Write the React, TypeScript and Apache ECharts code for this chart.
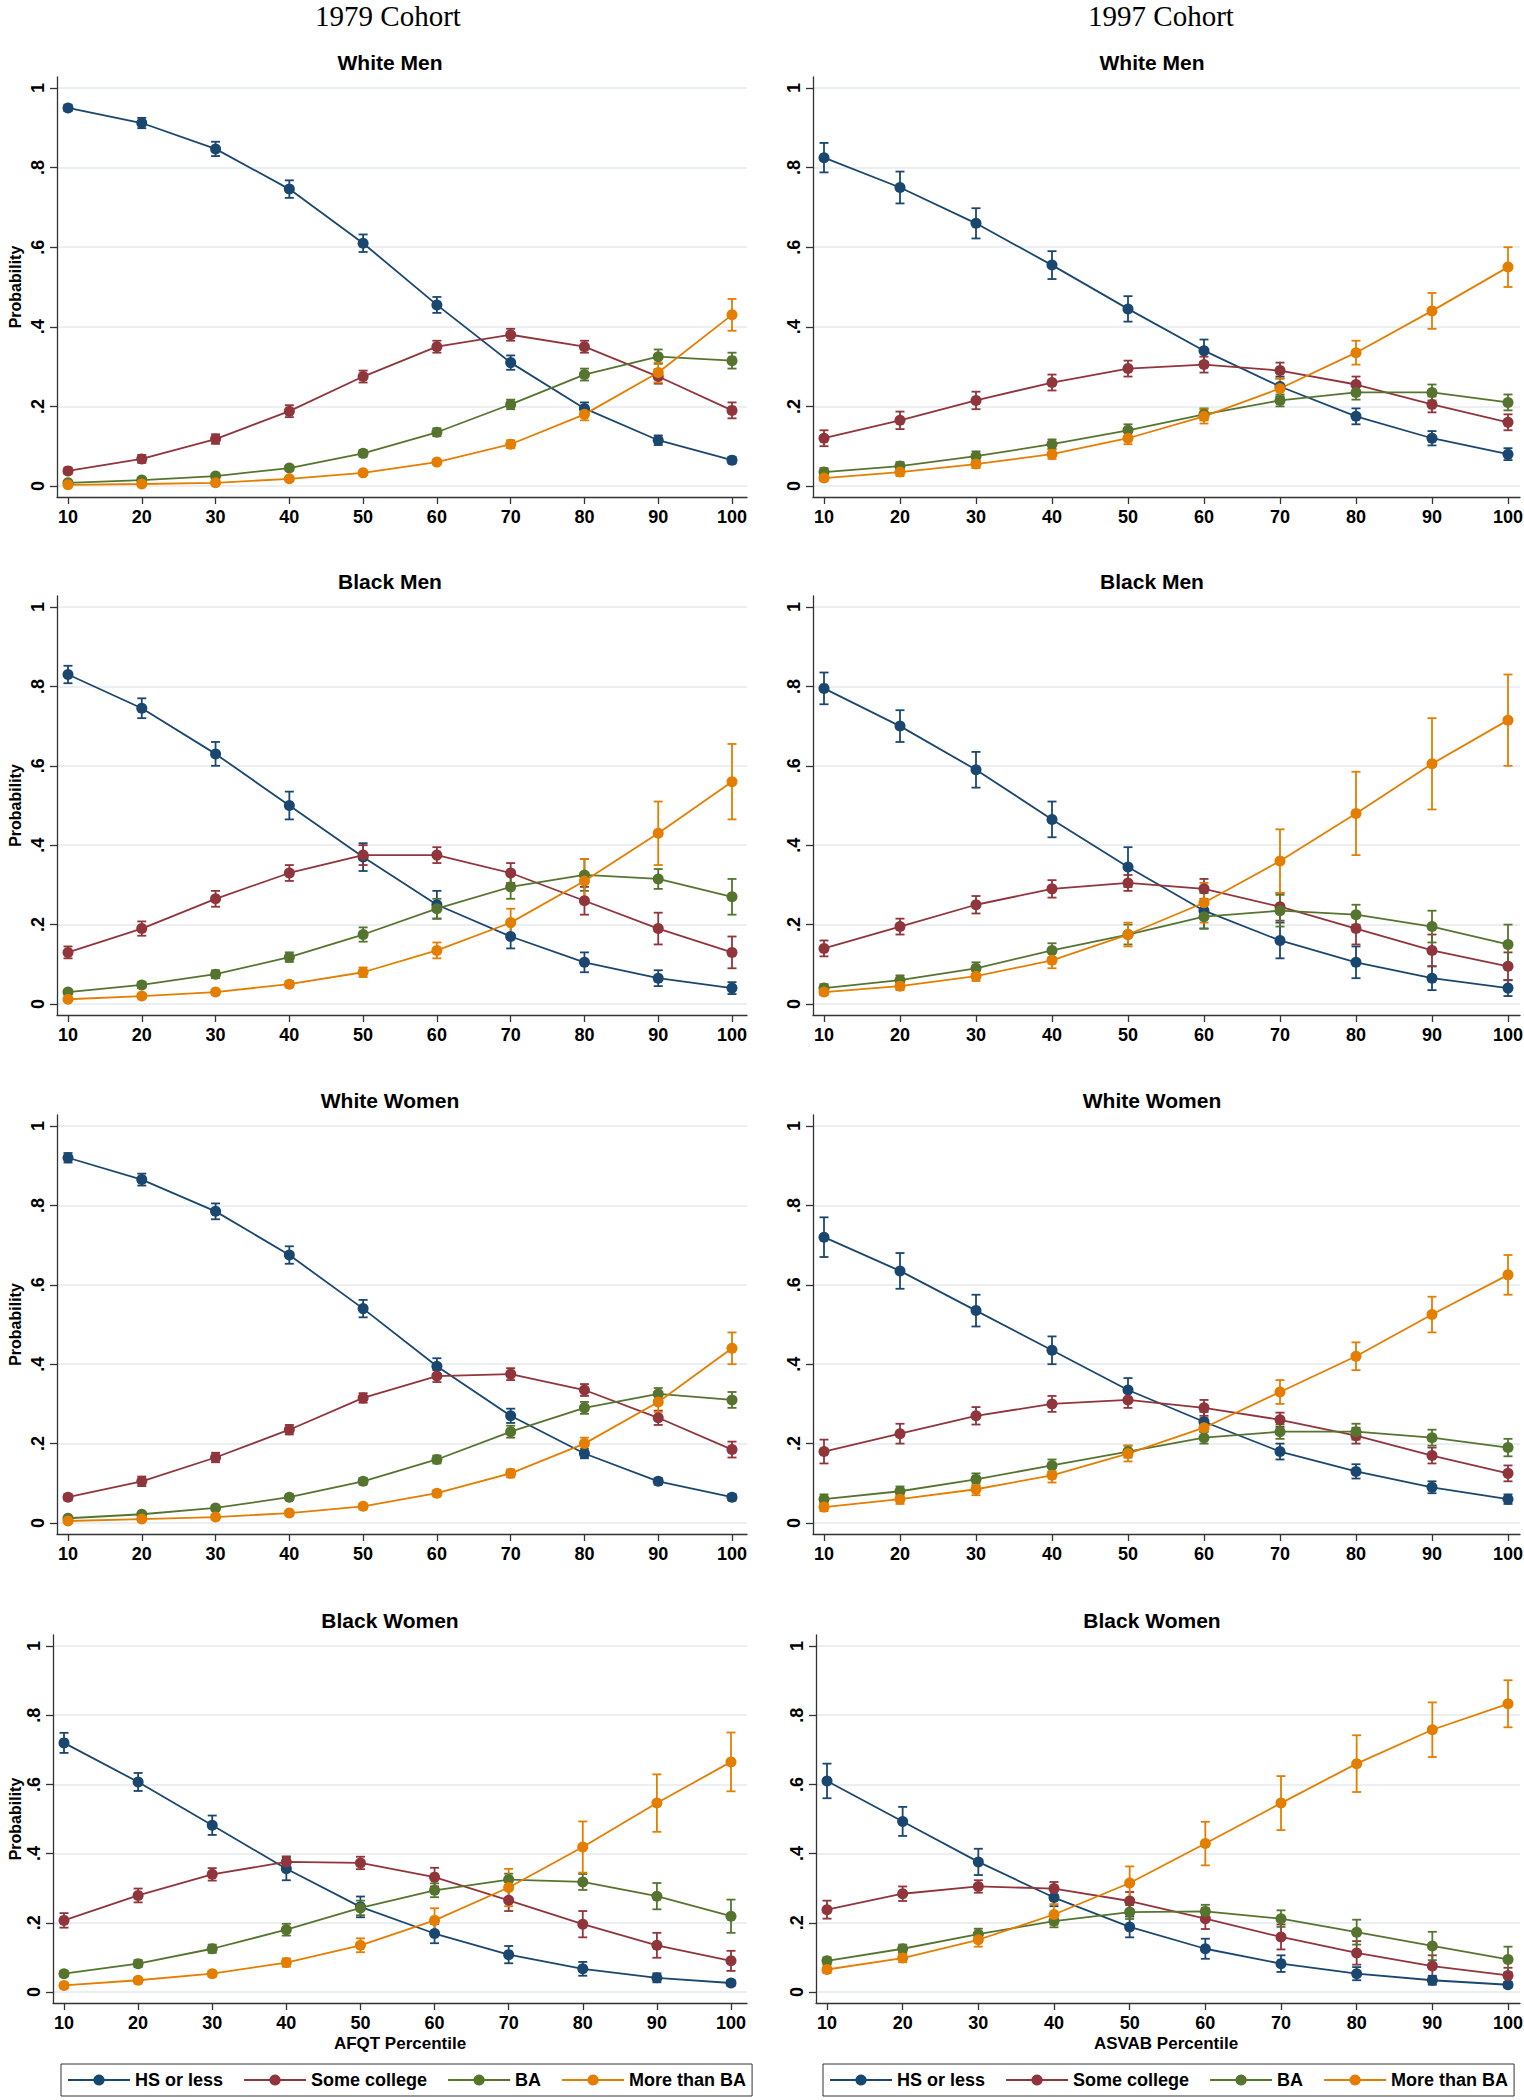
import React, { useEffect, useRef } from "react";
import * as echarts from "echarts";

// ---------- data ----------
const percentiles = [10, 20, 30, 40, 50, 60, 70, 80, 90, 100];
const categories = ["HS or less", "Some college", "BA", "More than BA"];
const colors = ["#1a476f", "#90353b", "#55752f", "#e37e00"];
const yTicks = [0, 0.2, 0.4, 0.6, 0.8, 1];
const cohortTitles = ["1979 Cohort", "1997 Cohort"];
const groupTitles = ["White Men", "Black Men", "White Women", "Black Women"];
const xAxisTitles = ["AFQT Percentile", "ASVAB Percentile"];
const yAxisTitle = "Probability";

// 1979 cohort, White Men
const wm79Hs = [0.95, 0.912, 0.847, 0.746, 0.61, 0.455, 0.31, 0.195, 0.115, 0.065];
const wm79Some = [0.038, 0.068, 0.118, 0.188, 0.275, 0.35, 0.38, 0.35, 0.275, 0.19];
const wm79Ba = [0.008, 0.015, 0.025, 0.045, 0.082, 0.135, 0.205, 0.28, 0.325, 0.315];
const wm79More = [0.003, 0.005, 0.008, 0.018, 0.033, 0.06, 0.105, 0.18, 0.285, 0.43];
const wm79HsCi = [0.008, 0.013, 0.018, 0.022, 0.022, 0.02, 0.018, 0.015, 0.012, 0.008];
const wm79SomeCi = [0.008, 0.01, 0.012, 0.015, 0.015, 0.015, 0.015, 0.015, 0.018, 0.02];
const wm79BaCi = [0.003, 0.004, 0.005, 0.006, 0.008, 0.01, 0.012, 0.015, 0.018, 0.02];
const wm79MoreCi = [0.002, 0.002, 0.003, 0.004, 0.005, 0.006, 0.01, 0.015, 0.025, 0.04];

// 1997 cohort, White Men
const wm97Hs = [0.825, 0.75, 0.66, 0.555, 0.445, 0.34, 0.25, 0.175, 0.12, 0.08];
const wm97Some = [0.12, 0.165, 0.215, 0.26, 0.295, 0.305, 0.29, 0.255, 0.205, 0.16];
const wm97Ba = [0.035, 0.05, 0.075, 0.105, 0.14, 0.18, 0.215, 0.235, 0.235, 0.21];
const wm97More = [0.02, 0.035, 0.055, 0.08, 0.12, 0.175, 0.245, 0.335, 0.44, 0.55];
const wm97HsCi = [0.037, 0.04, 0.038, 0.035, 0.032, 0.028, 0.025, 0.02, 0.018, 0.015];
const wm97SomeCi = [0.02, 0.022, 0.022, 0.02, 0.02, 0.02, 0.02, 0.02, 0.02, 0.02];
const wm97BaCi = [0.01, 0.01, 0.012, 0.012, 0.015, 0.015, 0.015, 0.018, 0.02, 0.02];
const wm97MoreCi = [0.008, 0.01, 0.01, 0.012, 0.015, 0.018, 0.025, 0.03, 0.045, 0.05];

// 1979 cohort, Black Men
const bm79Hs = [0.83, 0.745, 0.63, 0.5, 0.37, 0.25, 0.17, 0.105, 0.065, 0.04];
const bm79Some = [0.13, 0.19, 0.265, 0.33, 0.375, 0.375, 0.33, 0.26, 0.19, 0.13];
const bm79Ba = [0.03, 0.048, 0.075, 0.118, 0.175, 0.24, 0.295, 0.325, 0.315, 0.27];
const bm79More = [0.012, 0.02, 0.03, 0.05, 0.08, 0.135, 0.205, 0.31, 0.43, 0.56];
const bm79HsCi = [0.022, 0.025, 0.03, 0.035, 0.035, 0.035, 0.03, 0.025, 0.02, 0.015];
const bm79SomeCi = [0.015, 0.018, 0.02, 0.02, 0.025, 0.02, 0.025, 0.035, 0.04, 0.04];
const bm79BaCi = [0.006, 0.008, 0.01, 0.012, 0.018, 0.025, 0.03, 0.04, 0.025, 0.045];
const bm79MoreCi = [0.004, 0.005, 0.006, 0.008, 0.012, 0.02, 0.035, 0.055, 0.08, 0.095];

// 1997 cohort, Black Men
const bm97Hs = [0.795, 0.7, 0.59, 0.465, 0.345, 0.235, 0.16, 0.105, 0.065, 0.04];
const bm97Some = [0.14, 0.195, 0.25, 0.29, 0.305, 0.29, 0.245, 0.19, 0.135, 0.095];
const bm97Ba = [0.04, 0.06, 0.09, 0.135, 0.175, 0.22, 0.235, 0.225, 0.195, 0.15];
const bm97More = [0.03, 0.045, 0.07, 0.11, 0.175, 0.255, 0.36, 0.48, 0.605, 0.715];
const bm97HsCi = [0.04, 0.04, 0.045, 0.045, 0.05, 0.045, 0.045, 0.04, 0.03, 0.02];
const bm97SomeCi = [0.02, 0.02, 0.022, 0.022, 0.02, 0.025, 0.035, 0.04, 0.04, 0.035];
const bm97BaCi = [0.01, 0.012, 0.015, 0.018, 0.025, 0.03, 0.04, 0.025, 0.04, 0.05];
const bm97MoreCi = [0.008, 0.01, 0.012, 0.02, 0.03, 0.05, 0.08, 0.105, 0.115, 0.115];

// 1979 cohort, White Women
const ww79Hs = [0.92, 0.865, 0.785, 0.675, 0.54, 0.395, 0.27, 0.175, 0.105, 0.065];
const ww79Some = [0.065, 0.105, 0.165, 0.235, 0.315, 0.37, 0.375, 0.335, 0.265, 0.185];
const ww79Ba = [0.012, 0.022, 0.038, 0.065, 0.105, 0.16, 0.23, 0.29, 0.325, 0.31];
const ww79More = [0.005, 0.01, 0.015, 0.025, 0.042, 0.075, 0.125, 0.2, 0.305, 0.44];
const ww79HsCi = [0.012, 0.015, 0.02, 0.022, 0.022, 0.02, 0.018, 0.012, 0.008, 0.008];
const ww79SomeCi = [0.008, 0.012, 0.012, 0.012, 0.012, 0.015, 0.015, 0.015, 0.018, 0.02];
const ww79BaCi = [0.004, 0.005, 0.006, 0.007, 0.008, 0.01, 0.015, 0.015, 0.015, 0.02];
const ww79MoreCi = [0.002, 0.003, 0.004, 0.005, 0.006, 0.008, 0.01, 0.015, 0.025, 0.04];

// 1997 cohort, White Women
const ww97Hs = [0.72, 0.635, 0.535, 0.435, 0.335, 0.255, 0.18, 0.13, 0.09, 0.06];
const ww97Some = [0.18, 0.225, 0.27, 0.3, 0.31, 0.29, 0.26, 0.22, 0.17, 0.125];
const ww97Ba = [0.06, 0.08, 0.11, 0.145, 0.18, 0.215, 0.23, 0.23, 0.215, 0.19];
const ww97More = [0.04, 0.06, 0.085, 0.12, 0.175, 0.24, 0.33, 0.42, 0.525, 0.625];
const ww97HsCi = [0.05, 0.045, 0.04, 0.035, 0.03, 0.025, 0.02, 0.018, 0.015, 0.012];
const ww97SomeCi = [0.03, 0.025, 0.022, 0.02, 0.02, 0.02, 0.018, 0.02, 0.02, 0.02];
const ww97BaCi = [0.012, 0.012, 0.015, 0.015, 0.015, 0.015, 0.018, 0.02, 0.02, 0.022];
const ww97MoreCi = [0.01, 0.012, 0.015, 0.018, 0.02, 0.025, 0.03, 0.035, 0.045, 0.05];

// 1979 cohort, Black Women
const bw79Hs = [0.72, 0.607, 0.482, 0.356, 0.246, 0.169, 0.108, 0.067, 0.041, 0.026];
const bw79Some = [0.207, 0.279, 0.34, 0.376, 0.373, 0.332, 0.265, 0.196, 0.135, 0.09];
const bw79Ba = [0.053, 0.082, 0.125, 0.18, 0.243, 0.294, 0.325, 0.318, 0.277, 0.219];
const bw79More = [0.019, 0.034, 0.053, 0.085, 0.135, 0.207, 0.302, 0.419, 0.546, 0.665];
const bw79HsCi = [0.029, 0.026, 0.028, 0.033, 0.03, 0.028, 0.025, 0.02, 0.013, 0.008];
const bw79SomeCi = [0.021, 0.02, 0.018, 0.016, 0.018, 0.027, 0.031, 0.038, 0.036, 0.029];
const bw79BaCi = [0.008, 0.01, 0.012, 0.017, 0.021, 0.02, 0.017, 0.023, 0.038, 0.048];
const bw79MoreCi = [0.006, 0.007, 0.008, 0.012, 0.02, 0.035, 0.054, 0.074, 0.083, 0.085];

// 1997 cohort, Black Women
const bw97Hs = [0.61, 0.493, 0.376, 0.273, 0.188, 0.125, 0.082, 0.053, 0.034, 0.021];
const bw97Some = [0.238, 0.284, 0.305, 0.299, 0.263, 0.212, 0.159, 0.113, 0.075, 0.048];
const bw97Ba = [0.09, 0.125, 0.167, 0.205, 0.231, 0.233, 0.212, 0.173, 0.133, 0.094];
const bw97More = [0.065, 0.098, 0.151, 0.224, 0.315, 0.429, 0.546, 0.66, 0.758, 0.833];
const bw97HsCi = [0.05, 0.042, 0.038, 0.025, 0.03, 0.029, 0.024, 0.019, 0.013, 0.008];
const bw97SomeCi = [0.026, 0.021, 0.018, 0.019, 0.026, 0.03, 0.036, 0.034, 0.031, 0.022];
const bw97BaCi = [0.01, 0.012, 0.016, 0.018, 0.02, 0.019, 0.024, 0.036, 0.041, 0.037];
const bw97MoreCi = [0.01, 0.012, 0.02, 0.03, 0.048, 0.063, 0.078, 0.082, 0.079, 0.068];

const panelValues = [
  [[wm79Hs, wm79Some, wm79Ba, wm79More], [wm97Hs, wm97Some, wm97Ba, wm97More]],
  [[bm79Hs, bm79Some, bm79Ba, bm79More], [bm97Hs, bm97Some, bm97Ba, bm97More]],
  [[ww79Hs, ww79Some, ww79Ba, ww79More], [ww97Hs, ww97Some, ww97Ba, ww97More]],
  [[bw79Hs, bw79Some, bw79Ba, bw79More], [bw97Hs, bw97Some, bw97Ba, bw97More]],
];
const panelCis = [
  [[wm79HsCi, wm79SomeCi, wm79BaCi, wm79MoreCi], [wm97HsCi, wm97SomeCi, wm97BaCi, wm97MoreCi]],
  [[bm79HsCi, bm79SomeCi, bm79BaCi, bm79MoreCi], [bm97HsCi, bm97SomeCi, bm97BaCi, bm97MoreCi]],
  [[ww79HsCi, ww79SomeCi, ww79BaCi, ww79MoreCi], [ww97HsCi, ww97SomeCi, ww97BaCi, ww97MoreCi]],
  [[bw79HsCi, bw79SomeCi, bw79BaCi, bw79MoreCi], [bw97HsCi, bw97SomeCi, bw97BaCi, bw97MoreCi]],
];

// ---------- layout (pixels) ----------
const W = 1524;
const H = 2100;
const FONT = '"Liberation Sans", Arial, Helvetica, sans-serif';
// per row: pixel of value 1, pixel of value 0
const rowY1 = [88, 607, 1126, 1646];
const rowY0 = [486, 1004, 1523, 1992];
const yExt = 11;
// per column, top rows / bottom row: axis line x, x of tick 10, x of tick 100, right edge
const colGeom = [
  { top: [57, 68, 732, 747], bottom: [53, 64, 731, 747] },
  { top: [813, 824, 1508, 1520], bottom: [816, 827, 1508, 1520] },
];
const cohortTitleX = [388, 1161];
const groupTitleX = [390, 1152];
const xTitleX = [400, 1166];
const legendLeft = [61, 823];

const fmtY = (v: number) => {
  const r = Math.round(v * 10) / 10;
  if (r === 0) return "0";
  if (r === 1) return "1";
  return String(r).replace("0.", ".");
};

function buildOption() {
  const grid: any[] = [];
  const xAxis: any[] = [];
  const yAxis: any[] = [];
  const series: any[] = [];
  const graphic: any[] = [];

  for (let row = 0; row < 4; row++) {
    for (let col = 0; col < 2; col++) {
      const idx = grid.length;
      const g = row === 3 ? colGeom[col].bottom : colGeom[col].top;
      const [axX, x10, x100, xR] = g;
      const pxPerX = (x100 - x10) / 90;
      const xMin = 10 - (x10 - axX) / pxPerX;
      const xMax = 100 + (xR - x100) / pxPerX;
      const pxPerY = rowY0[row] - rowY1[row];
      const yMin = -yExt / pxPerY;
      const yMax = 1 + yExt / pxPerY;
      grid.push({
        left: axX,
        top: rowY1[row] - yExt,
        width: xR - axX,
        height: pxPerY + 2 * yExt,
        outerBoundsMode: "none",
        containLabel: false,
      });
      xAxis.push({
        type: "value",
        gridIndex: idx,
        min: xMin,
        max: xMax,
        axisLine: { show: true, onZero: false, lineStyle: { color: "#333", width: 1.3 } },
        axisTick: { show: true, length: 7, customValues: percentiles, lineStyle: { color: "#333", width: 1.3 } },
        axisLabel: {
          show: true,
          customValues: percentiles,
          margin: 11,
          fontFamily: FONT,
          fontSize: 18,
          fontWeight: "bold",
          color: "#000",
        },
        splitLine: { show: false },
      });
      yAxis.push({
        type: "value",
        gridIndex: idx,
        min: yMin,
        max: yMax,
        axisLine: { show: true, onZero: false, lineStyle: { color: "#333", width: 1.3 } },
        axisTick: { show: true, length: 7, customValues: yTicks, lineStyle: { color: "#333", width: 1.3 } },
        axisLabel: {
          show: true,
          customValues: yTicks,
          rotate: 90,
          margin: 10,
          fontFamily: FONT,
          fontSize: 18,
          fontWeight: "bold",
          color: "#000",
          formatter: fmtY,
        },
        splitLine: { show: true, lineStyle: { color: "#e6eaee", width: 1.5 } },
      });

      const vals = panelValues[row][col];
      const cis = panelCis[row][col];
      // error bars first
      for (let k = 0; k < 4; k++) {
        const color = colors[k];
        series.push({
          type: "custom",
          name: categories[k] + " CI " + idx,
          xAxisIndex: idx,
          yAxisIndex: idx,
          silent: true,
          z: 2,
          data: percentiles.map((p, i) => [p, vals[k][i] - cis[k][i], vals[k][i] + cis[k][i]]),
          encode: { x: 0, y: [1, 2] },
          renderItem: (params: any, api: any) => {
            const x = api.value(0);
            const lo = api.coord([x, api.value(1)]);
            const hi = api.coord([x, api.value(2)]);
            const w = 4.5;
            const style = { stroke: color, lineWidth: 1.8 };
            return {
              type: "group",
              children: [
                { type: "line", shape: { x1: lo[0], y1: lo[1], x2: hi[0], y2: hi[1] }, style },
                { type: "line", shape: { x1: lo[0] - w, y1: lo[1], x2: lo[0] + w, y2: lo[1] }, style },
                { type: "line", shape: { x1: hi[0] - w, y1: hi[1], x2: hi[0] + w, y2: hi[1] }, style },
              ],
            };
          },
        });
      }
      for (let k = 0; k < 4; k++) {
        series.push({
          type: "line",
          name: categories[k],
          xAxisIndex: idx,
          yAxisIndex: idx,
          silent: true,
          z: 3,
          data: percentiles.map((p, i) => [p, vals[k][i]]),
          symbol: "circle",
          symbolSize: 11,
          showSymbol: true,
          lineStyle: { color: colors[k], width: 1.8 },
          itemStyle: { color: colors[k] },
          emphasis: { disabled: true },
        });
      }

      // panel title
      graphic.push({
        type: "text",
        x: groupTitleX[col],
        y: rowY1[row] - 26,
        style: {
          text: groupTitles[row],
          font: `bold 21px ${FONT}`,
          fill: "#000",
          align: "center",
          verticalAlign: "middle",
          textAlign: "center",
          textVerticalAlign: "middle",
        },
      });
      if (col === 0) {
        graphic.push({
          type: "text",
          x: 15,
          y: (rowY1[row] + rowY0[row]) / 2,
          rotation: Math.PI / 2,
          style: {
            text: yAxisTitle,
            font: `bold 16px ${FONT}`,
            fill: "#000",
            align: "center",
            verticalAlign: "middle",
            textAlign: "center",
            textVerticalAlign: "middle",
          },
        });
      }
    }
  }

  for (let col = 0; col < 2; col++) {
    graphic.push({
      type: "text",
      x: cohortTitleX[col],
      y: 16,
      style: {
        text: cohortTitles[col],
        font: '29px "Liberation Serif", "Times New Roman", serif',
        fill: "#000",
        align: "center",
        verticalAlign: "middle",
        textAlign: "center",
        textVerticalAlign: "middle",
      },
    });
    graphic.push({
      type: "text",
      x: xTitleX[col],
      y: 2043,
      style: {
        text: xAxisTitles[col],
        font: `bold 17px ${FONT}`,
        fill: "#000",
        align: "center",
        verticalAlign: "middle",
        textAlign: "center",
        textVerticalAlign: "middle",
      },
    });
  }

  const legend = [0, 1].map((c) => ({
    data: categories,
    left: legendLeft[c],
    top: 2064,
    orient: "horizontal",
    itemWidth: 62,
    itemHeight: 14,
    itemGap: 20,
    padding: [7, 6],
    borderColor: "#333",
    borderWidth: 1,
    selectedMode: false,
    textStyle: { fontFamily: FONT, fontSize: 18, fontWeight: "bold", color: "#000" },
  }));

  return {
    animation: false,
    backgroundColor: "#fff",
    grid,
    xAxis,
    yAxis,
    series,
    legend,
    graphic,
    tooltip: { show: false },
  };
}

export default function App() {
  const ref = useRef<HTMLDivElement>(null);
  useEffect(() => {
    if (!ref.current) return;
    const chart = echarts.init(ref.current, undefined, { renderer: "svg", width: W, height: H });
    chart.setOption(buildOption() as any);
    return () => chart.dispose();
  }, []);
  return (
    <div
      ref={ref}
      style={{ position: "absolute", left: 0, top: 0, width: W, height: H, background: "#fff" }}
    />
  );
}
